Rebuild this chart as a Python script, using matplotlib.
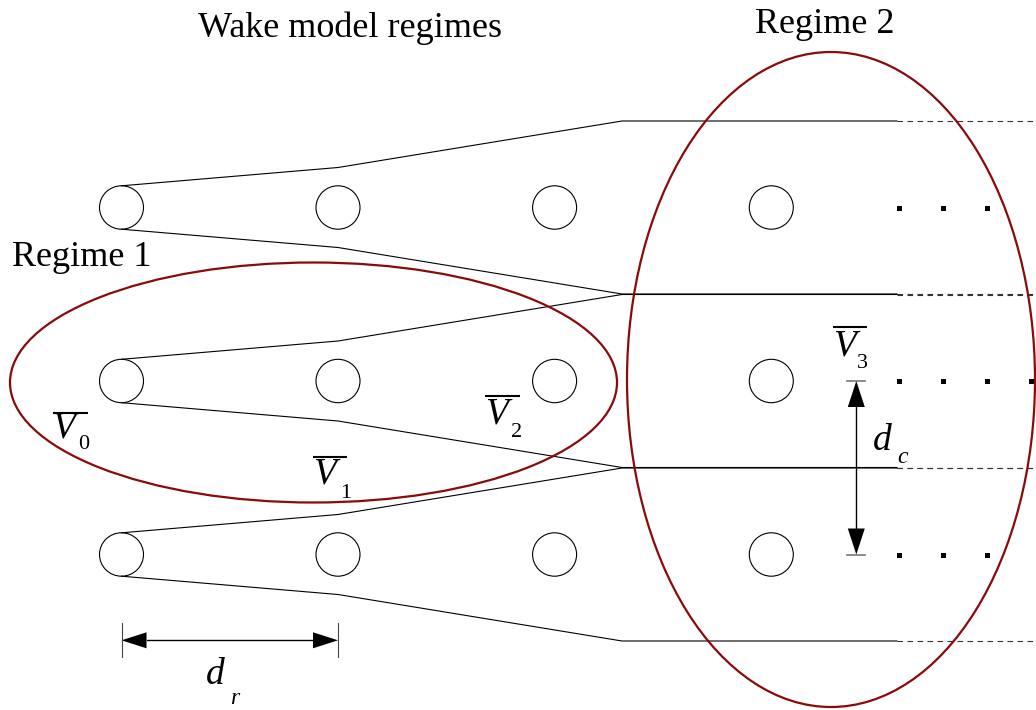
import matplotlib.pyplot as plt
from matplotlib.patches import Ellipse

# geometry of the sketch, in pixel units of the 1036x710 canvas
col_x = [121.5, 338, 554.6, 771.3]
row_y = [207.5, 381, 554.5]
turb_w, turb_h = 44, 43.4

wake_x = [121.5, 338, 622, 897]
wake_half = [21.7, 40, 86.5, 86.5]
dash_end = 1036

dots_x = [[899, 943, 987], [899, 943, 987, 1031], [899, 943, 987]]

regime1 = (313.5, 382.5, 607, 240)
regime2 = (831, 379.5, 408, 655)

# labels: (text, left x, baseline y)
titles = [("Wake model regimes", 198, 36.7), ("Regime 2", 755, 32.7), ("Regime 1", 12, 265.7)]
vbars = [("0", 52, 437, 52.7, 87.7, 413.3, 78, 449),
         ("1", 313, 483, 313, 347, 456.7, 340, 498),
         ("2", 485, 423, 484.6, 520, 396, 510.7, 437),
         ("3", 833, 355, 833, 867, 326.7, 857.3, 368)]
dists = [("d", "r", 206, 684, 230, 704), ("d", "c", 873, 450, 897.7, 463)]

red = '#8a0a0a'
serif = 'Liberation Serif'

fig = plt.figure(figsize=(10.36, 7.10), dpi=100)
ax = fig.add_axes([0, 0, 1, 1])
ax.set_xlim(0, 1036)
ax.set_ylim(710, 0)
ax.axis('off')

# turbines
for y in row_y:
    for x in col_x:
        ax.add_patch(Ellipse((x, y), turb_w, turb_h, fill=False, ec='black', lw=0.8))

# wake boundaries
for y in row_y:
    for sgn in (-1, 1):
        ys = [y + sgn * h for h in wake_half]
        ax.plot(wake_x, ys, color='black', lw=0.8)
        ax.plot([wake_x[-1], dash_end], [ys[-1], ys[-1]], color='#333333', lw=0.8,
                linestyle=(0, (5, 4)))

# dots
for y, xs in zip(row_y, dots_x):
    ax.plot(xs, [y] * len(xs), 's', color='black', ms=3.6, mew=0)

# regime ellipses
for cx, cy, w, h in (regime1, regime2):
    ax.add_patch(Ellipse((cx, cy), w, h, fill=False, ec=red, lw=1.6, zorder=5))

# text
for s, x, y in titles:
    ax.text(x, y, s, fontsize=26, family=serif, ha='left', va='baseline')

for sub, vx, vy, ox0, ox1, oy, sx, sy in vbars:
    ax.text(vx, vy, "V", fontsize=27, family=serif, style='italic', ha='left', va='baseline')
    ax.plot([ox0, ox1], [oy, oy], color='black', lw=1.5, solid_capstyle='butt')
    ax.text(sx, sy, sub, fontsize=16, family=serif, ha='left', va='baseline')

for s, sub, x, y, sx, sy in dists:
    ax.text(x, y, s, fontsize=27, family=serif, style='italic', ha='left', va='baseline')
    ax.text(sx, sy, sub, fontsize=17, family=serif, style='italic', ha='left', va='baseline')

# d_r dimension arrow
ar_y = 640.3
x0, x1 = col_x[0], col_x[1]
hl, hw = 25, 8
ax.plot([x0 + hl, x1 - hl], [ar_y, ar_y], color='black', lw=1)
ax.fill([x0, x0 + hl, x0 + hl], [ar_y, ar_y - hw, ar_y + hw], color='black', lw=0)
ax.fill([x1, x1 - hl, x1 - hl], [ar_y, ar_y - hw, ar_y + hw], color='black', lw=0)
for x in (x0, x1):
    ax.plot([x, x], [623, 657], color='#444444', lw=0.8)

# d_c dimension arrow
ac_x = 856.3
y0, y1 = row_y[1], row_y[2]
hl, hw = 26, 8.5
ax.plot([ac_x, ac_x], [y0 + hl, y1 - hl], color='black', lw=1)
ax.fill([ac_x, ac_x - hw, ac_x + hw], [y0, y0 + hl, y0 + hl], color='black', lw=0)
ax.fill([ac_x, ac_x - hw, ac_x + hw], [y1, y1 - hl, y1 - hl], color='black', lw=0)
for y in (y0, y1):
    ax.plot([ac_x - 9, ac_x + 9], [y, y], color='#777777', lw=1.2)

fig.savefig('out.png', dpi=100)
